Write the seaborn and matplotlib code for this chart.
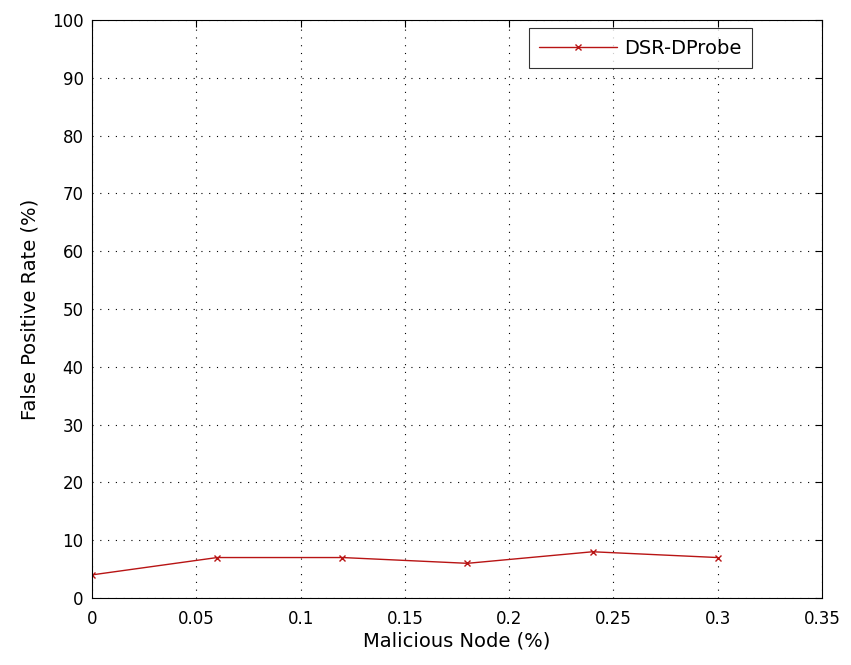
import matplotlib
matplotlib.use("Agg")
import matplotlib.pyplot as plt
import seaborn as sns
import pandas as pd

malicious = [0, 0.06, 0.12, 0.18, 0.24, 0.30]
fpr = [4, 7, 7, 6, 8, 7]
series_name = "DSR-DProbe"

sns.set_theme(style="white")
plt.rcParams['font.family'] = ['DejaVu Sans']
plt.rcParams['text.color'] = 'black'

df = pd.DataFrame({"x": malicious, "y": fpr, "s": series_name})

line_color = "#b81414"

fig = plt.figure(figsize=(8.51, 6.65), dpi=100)
ax = fig.add_axes([92/851, 67/665, 730/851, 578/665])

sns.lineplot(data=df, x="x", y="y", ax=ax, color=line_color, marker="x",
             markersize=5, markeredgewidth=1.0, markeredgecolor=line_color,
             linewidth=1.0, label=series_name)

ax.set_xlim(0, 0.35)
ax.set_ylim(0, 100)
ax.set_xticks([0, 0.05, 0.1, 0.15, 0.2, 0.25, 0.3, 0.35])
ax.set_xticklabels(["0", "0.05", "0.1", "0.15", "0.2", "0.25", "0.3", "0.35"])
ax.set_yticks(range(0, 101, 10))
ax.grid(True, color="black", linestyle=(0, (1, 6)), linewidth=0.8)
for s in ax.spines.values():
    s.set_color("black")
    s.set_linewidth(0.8)
ax.tick_params(direction="in", top=True, right=True, length=5, width=0.8,
               labelsize=12, colors="black")
ax.tick_params(axis="x", pad=9)
ax.tick_params(axis="y", pad=6)
ax.set_xlabel("Malicious Node (%)", fontsize=14, color="black", labelpad=2)
ax.set_ylabel("False Positive Rate (%)", fontsize=14, color="black", labelpad=9)

leg = ax.legend(loc="upper right", bbox_to_anchor=(752/851, 637/665),
                bbox_transform=fig.transFigure, fancybox=False, frameon=True,
                edgecolor="black", fontsize=14, borderaxespad=0,
                handlelength=4.0, handletextpad=0.35, borderpad=0.55)
leg.get_frame().set_linewidth(0.8)
for t in leg.get_texts():
    t.set_color("black")

fig.savefig("out.png", dpi=100, facecolor="white")
